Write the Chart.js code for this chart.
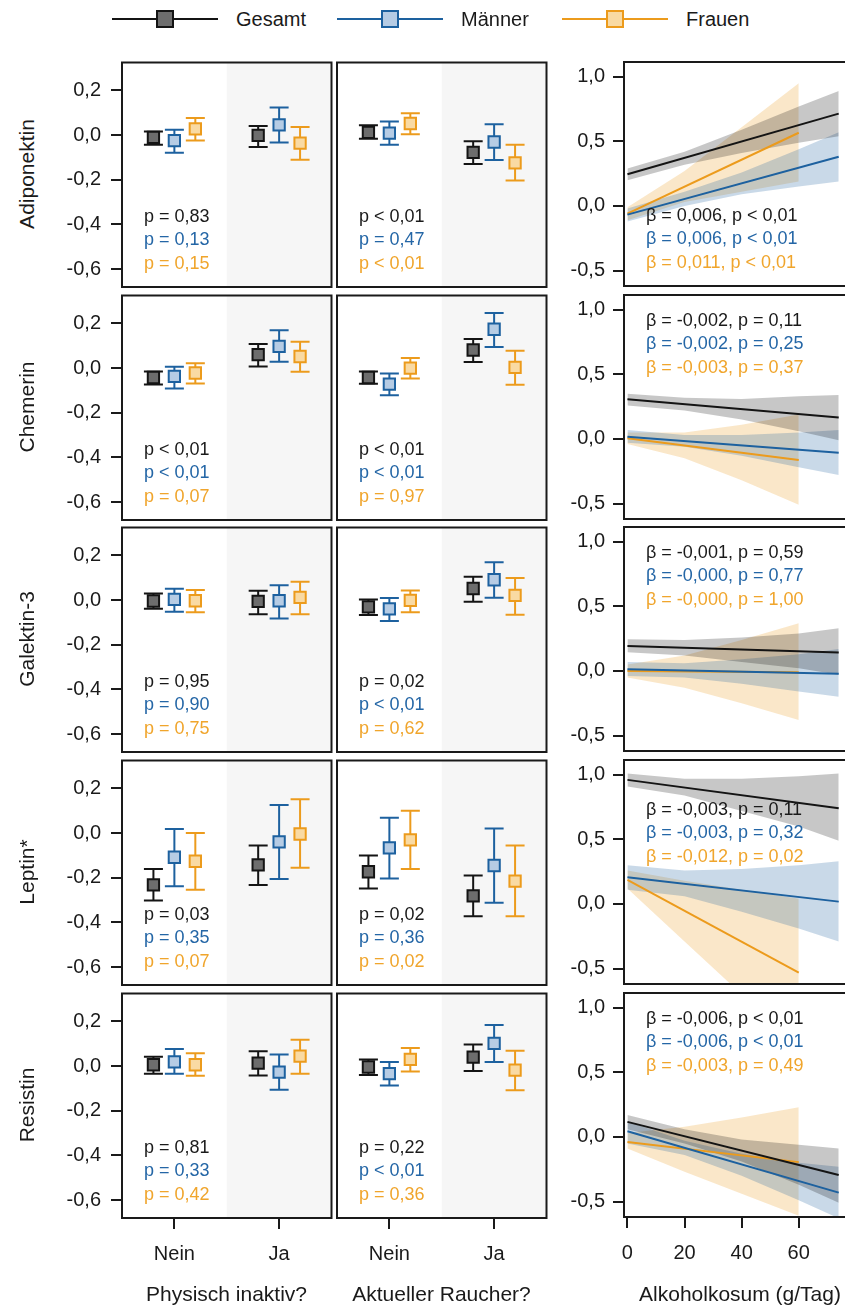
<!DOCTYPE html>
<html>
<head>
<meta charset="utf-8">
<script src="https://cdn.jsdelivr.net/npm/chart.js@4.4.1/dist/chart.umd.min.js"></script>
<style>
  html, body { margin: 0; padding: 0; }
  body { width: 845px; height: 1305px; position: relative; overflow: hidden; background: #fff;
         font-family: "Liberation Sans", Arial, sans-serif; color: #1a1a1a; }
  .wrap { position: absolute; }
  .txt { position: absolute; white-space: nowrap; line-height: 1; }
  .rot { transform: translate(-50%, -50%) rotate(-90deg); }
  .ctr { transform: translate(-50%, -50%); }
  .leg-line { position: absolute; height: 2px; }
  .leg-box { position: absolute; width: 14px; height: 14px; border: 2px solid; }
</style>
</head>
<body>
<script>
// ---- data ----
const rowNames = ["Adiponektin", "Chemerin", "Galektin-3", "Leptin*", "Resistin"];
const groups = ["Nein", "Ja"];
const seriesNames = ["Gesamt", "Männer", "Frauen"];
const xTitles = ["Physisch inaktiv?", "Aktueller Raucher?", "Alkoholkosum (g/Tag)"];

// [row][Gesamt, Männer, Frauen][Nein, Ja]
const inaktivMean = [
  [[-0.010, -0.001], [-0.025, 0.046], [0.028, -0.036]],
  [[-0.042, 0.060], [-0.037, 0.097], [-0.022, 0.052]],
  [[-0.004, -0.006], [0.003, -0.003], [-0.003, 0.012]],
  [[-0.232, -0.142], [-0.108, -0.039], [-0.126, -0.004]],
  [[0.006, 0.013], [0.019, -0.027], [0.006, 0.045]]
];
const inaktivLo = [
  [[-0.043, -0.053], [-0.079, -0.033], [-0.024, -0.110]],
  [[-0.073, 0.007], [-0.091, 0.028], [-0.069, -0.016]],
  [[-0.039, -0.063], [-0.052, -0.082], [-0.054, -0.063]],
  [[-0.302, -0.232], [-0.238, -0.206], [-0.254, -0.155]],
  [[-0.034, -0.042], [-0.034, -0.106], [-0.043, -0.034]]
];
const inaktivHi = [
  [[0.016, 0.041], [0.024, 0.123], [0.076, 0.036]],
  [[-0.015, 0.108], [0.006, 0.169], [0.022, 0.118]],
  [[0.030, 0.042], [0.051, 0.067], [0.045, 0.082]],
  [[-0.161, -0.055], [0.018, 0.126], [0.000, 0.151]],
  [[0.042, 0.067], [0.076, 0.052], [0.057, 0.118]]
];
const raucherMean = [
  [[0.012, -0.077], [0.009, -0.031], [0.052, -0.124]],
  [[-0.042, 0.081], [-0.072, 0.174], [0.000, 0.003]],
  [[-0.030, 0.052], [-0.039, 0.091], [-0.001, 0.021]],
  [[-0.173, -0.281], [-0.066, -0.145], [-0.030, -0.215]],
  [[-0.004, 0.040], [-0.034, 0.102], [0.030, -0.018]]
];
const raucherLo = [
  [[-0.016, -0.129], [-0.043, -0.111], [0.004, -0.203]],
  [[-0.070, 0.027], [-0.121, 0.094], [-0.046, -0.075]],
  [[-0.067, -0.007], [-0.094, 0.010], [-0.054, -0.066]],
  [[-0.248, -0.372], [-0.203, -0.312], [-0.161, -0.372]],
  [[-0.040, -0.022], [-0.087, 0.018], [-0.024, -0.108]]
];
const raucherHi = [
  [[0.044, -0.028], [0.061, 0.049], [0.098, -0.043]],
  [[-0.015, 0.130], [-0.024, 0.247], [0.045, 0.078]],
  [[0.003, 0.105], [0.009, 0.169], [0.043, 0.099]],
  [[-0.100, -0.190], [0.069, 0.021], [0.100, -0.055]],
  [[0.030, 0.097], [0.018, 0.184], [0.081, 0.069]]
];

// alcohol: regression line ends and confidence band
const alkX = [0, 20, 40, 60, 74];
const alkXFrauen = [0, 20, 40, 60];
const alkLineX = [0, 74];
const alkLineXFrauen = [0, 60];
const alkLine = [
  [[0.245, 0.715], [-0.067, 0.381], [-0.060, 0.567]],
  [[0.308, 0.166], [0.018, -0.106], [0.005, -0.163]],
  [[0.194, 0.142], [0.013, -0.021], [0.000, -0.010]],
  [[0.961, 0.742], [0.207, 0.018], [0.186, -0.532]],
  [[0.117, -0.294], [0.044, -0.431], [-0.039, -0.195]]
];
const alkLo = [
  [[0.20, 0.32, 0.41, 0.49, 0.54], [-0.12, 0.00, 0.09, 0.15, 0.19], [-0.11, 0.03, 0.11, 0.19]],
  [[0.26, 0.22, 0.15, 0.06, -0.01], [-0.03, -0.06, -0.13, -0.22, -0.28], [-0.04, -0.15, -0.32, -0.51]],
  [[0.145, 0.12, 0.07, 0.02, -0.03], [-0.04, -0.05, -0.10, -0.16, -0.20], [-0.05, -0.13, -0.25, -0.38]],
  [[0.91, 0.84, 0.72, 0.60, 0.49], [0.11, 0.06, -0.06, -0.19, -0.29], [0.12, -0.29, -0.70, -1.10]],
  [[0.06, -0.05, -0.19, -0.37, -0.51], [-0.05, -0.14, -0.30, -0.49, -0.63], [-0.09, -0.27, -0.44, -0.61]]
];
const alkHi = [
  [[0.29, 0.42, 0.59, 0.77, 0.89], [-0.02, 0.11, 0.26, 0.44, 0.57], [-0.01, 0.27, 0.61, 0.95]],
  [[0.35, 0.32, 0.31, 0.33, 0.34], [0.07, 0.03, 0.03, 0.05, 0.07], [0.05, 0.05, 0.11, 0.19]],
  [[0.245, 0.24, 0.26, 0.29, 0.33], [0.07, 0.06, 0.09, 0.13, 0.17], [0.05, 0.12, 0.24, 0.37]],
  [[1.01, 0.97, 0.97, 0.99, 1.01], [0.30, 0.26, 0.27, 0.30, 0.33], [0.26, 0.18, 0.11, 0.04]],
  [[0.17, 0.06, -0.02, -0.06, -0.09], [0.12, -0.03, -0.13, -0.20, -0.23], [0.03, 0.08, 0.15, 0.23]]
];

const pInaktiv = [
  ["p = 0,83", "p = 0,13", "p = 0,15"],
  ["p < 0,01", "p < 0,01", "p = 0,07"],
  ["p = 0,95", "p = 0,90", "p = 0,75"],
  ["p = 0,03", "p = 0,35", "p = 0,07"],
  ["p = 0,81", "p = 0,33", "p = 0,42"]
];
const pRaucher = [
  ["p < 0,01", "p = 0,47", "p < 0,01"],
  ["p < 0,01", "p < 0,01", "p = 0,97"],
  ["p = 0,02", "p < 0,01", "p = 0,62"],
  ["p = 0,02", "p = 0,36", "p = 0,02"],
  ["p = 0,22", "p < 0,01", "p = 0,36"]
];
const betaAlk = [
  ["β = 0,006, p < 0,01", "β = 0,006, p < 0,01", "β = 0,011, p < 0,01"],
  ["β = -0,002, p = 0,11", "β = -0,002, p = 0,25", "β = -0,003, p = 0,37"],
  ["β = -0,001, p = 0,59", "β = -0,000, p = 0,77", "β = -0,000, p = 1,00"],
  ["β = -0,003, p = 0,11", "β = -0,003, p = 0,32", "β = -0,012, p = 0,02"],
  ["β = -0,006, p < 0,01", "β = -0,006, p < 0,01", "β = -0,003, p = 0,49"]
];

const yTicksLeft = [0.2, 0.0, -0.2, -0.4, -0.6];
const yTicksRight = [1.0, 0.5, 0.0, -0.5];
const xTicksAlk = [0, 20, 40, 60];

// ---- style / layout ----
const FONT = '"Liberation Sans", Arial, sans-serif';
const lineCol = ['#141414', '#1d619f', '#ec9b1c'];
const fillCol = ['#6d6d6d', '#b6cce4', '#f9daa3'];
const textCol = ['#1a1a1a', '#2466a6', '#f0a52c'];
const bandCol = ['rgba(0,0,0,0.22)', 'rgba(31,98,160,0.24)', 'rgba(236,155,28,0.24)'];
const colX = [122, 337, 624];
const colW = [209, 209, 221];
const rowY = [62, 295, 527, 760, 993];
const boxH = 224;
const dodge = 0.2;
const betaTop = [null, 26, 26, 50, 26];

Chart.defaults.font.family = FONT;
Chart.defaults.color = '#1a1a1a';

const panelPlugin = {
  id: 'panel',
  beforeDatasetsDraw(chart, args, o) {
    if (o.shadeFrom === undefined) return;
    const { ctx, chartArea: a } = chart;
    const x0 = chart.scales.x.getPixelForValue(o.shadeFrom);
    ctx.save();
    ctx.fillStyle = '#f6f6f6';
    ctx.fillRect(x0, a.top, a.right - x0, a.bottom - a.top);
    ctx.restore();
  },
  afterDatasetsDraw(chart, args, o) {
    const { ctx, chartArea: a } = chart;
    ctx.save();
    ctx.font = '18px ' + FONT;
    ctx.textBaseline = 'middle';
    o.lines.forEach((t, i) => {
      ctx.fillStyle = textCol[i];
      const y = o.fromBottom != null ? a.bottom - o.fromBottom + i * 23.3 : a.top + o.fromTop + i * 23.3;
      ctx.fillText(t, a.left + 22, y);
    });
    ctx.strokeStyle = '#1a1a1a';
    ctx.lineWidth = 2;
    ctx.beginPath();
    if (o.openRight) {
      ctx.moveTo(a.right + 4, a.top);
      ctx.lineTo(a.left, a.top);
      ctx.lineTo(a.left, a.bottom);
      ctx.lineTo(a.right + 4, a.bottom);
    } else {
      ctx.rect(a.left, a.top, a.right - a.left, a.bottom - a.top);
    }
    ctx.stroke();
    ctx.restore();
  }
};

const fmt = v => v.toFixed(1).replace('.', ',');
const noPad = s => { s.paddingTop = 0; s.paddingBottom = 0; s.paddingLeft = 0; s.paddingRight = 0; };

function axisCommon(show, pad) {
  return {
    display: show,
    grid: { drawOnChartArea: false, drawTicks: true, tickLength: 11, color: '#1a1a1a', lineWidth: 2 },
    border: { display: false },
    ticks: { font: { size: 20 }, color: '#1a1a1a', padding: pad, maxRotation: 0, autoSkip: false }
  };
}

function dotConfig(row, col, mean, lo, hi, pTexts) {
  const datasets = [];
  seriesNames.forEach((name, s) => {
    const dx = (s - 1) * dodge;
    const bars = [];
    groups.forEach((g, gi) => {
      bars.push({ x: gi + 1 + dx, y: lo[row][s][gi] }, { x: gi + 1 + dx, y: hi[row][s][gi] }, { x: gi + 1 + dx, y: null });
    });
    datasets.push({
      label: name, data: bars, borderColor: lineCol[s], borderWidth: 2,
      pointStyle: 'line', pointRadius: 9.5, pointBorderWidth: 2, pointBorderColor: lineCol[s],
      spanGaps: false, order: 2
    });
    datasets.push({
      label: name, data: groups.map((g, gi) => ({ x: gi + 1 + dx, y: mean[row][s][gi] })),
      showLine: false, pointStyle: 'rect', pointRadius: 8,
      pointBackgroundColor: fillCol[s], pointBorderColor: lineCol[s], pointBorderWidth: 2, order: 1
    });
  });
  const x = axisCommon(row === 4, 13);
  Object.assign(x, {
    type: 'linear', min: 0.5, max: 2.5,
    afterBuildTicks: s => { s.ticks = groups.map((g, i) => ({ value: i + 1 })); },
    afterFit: s => { s.height = 60; noPad(s); }
  });
  x.ticks.callback = v => groups[Math.round(v) - 1];
  const y = axisCommon(col === 0, 10);
  Object.assign(y, {
    min: -0.68, max: 0.325,
    afterBuildTicks: s => { s.ticks = yTicksLeft.map(v => ({ value: v })); },
    afterFit: s => { s.width = 70; noPad(s); }
  });
  y.ticks.callback = v => fmt(v);
  return {
    type: 'line',
    data: { datasets },
    options: {
      animation: false, responsive: true, maintainAspectRatio: false, events: [],
      layout: { padding: 3 },
      plugins: {
        legend: { display: false }, tooltip: { enabled: false },
        panel: { shadeFrom: 1.5, lines: pTexts[row], fromBottom: 70 }
      },
      scales: { x, y }
    },
    plugins: [panelPlugin]
  };
}

function alkConfig(row) {
  const datasets = [];
  seriesNames.forEach((name, s) => {
    const xs = s === 2 ? alkXFrauen : alkX;
    const lx = s === 2 ? alkLineXFrauen : alkLineX;
    datasets.push({ label: name, data: xs.map((v, i) => ({ x: v, y: alkLo[row][s][i] })),
      borderWidth: 0, borderColor: 'transparent', pointRadius: 0, fill: false, order: 2 });
    datasets.push({ label: name, data: xs.map((v, i) => ({ x: v, y: alkHi[row][s][i] })),
      borderWidth: 0, borderColor: 'transparent', pointRadius: 0, fill: '-1', backgroundColor: bandCol[s], order: 2 });
    datasets.push({ label: name, data: lx.map((v, i) => ({ x: v, y: alkLine[row][s][i] })),
      borderColor: lineCol[s], borderWidth: 2, pointRadius: 0, fill: false, order: 1 });
  });
  const x = axisCommon(row === 4, 13);
  Object.assign(x, {
    type: 'linear', min: -1.2, max: 76.2,
    afterBuildTicks: s => { s.ticks = xTicksAlk.map(v => ({ value: v })); },
    afterFit: s => { s.height = 60; noPad(s); }
  });
  x.ticks.callback = v => String(v);
  const y = axisCommon(true, 8);
  Object.assign(y, {
    min: -0.62, max: 1.115,
    afterBuildTicks: s => { s.ticks = yTicksRight.map(v => ({ value: v })); },
    afterFit: s => { s.width = 70; noPad(s); }
  });
  y.ticks.callback = v => fmt(v);
  const panel = { lines: betaAlk[row], openRight: true };
  if (betaTop[row] == null) panel.fromBottom = 70; else panel.fromTop = betaTop[row];
  return {
    type: 'line',
    data: { datasets },
    options: {
      animation: false, responsive: true, maintainAspectRatio: false, events: [],
      layout: { padding: 3 },
      plugins: { legend: { display: false }, tooltip: { enabled: false }, panel },
      scales: { x, y }
    },
    plugins: [panelPlugin]
  };
}

// put a chart so that its chart area lands exactly on box
function placeChart(box, config) {
  const wrap = document.createElement('div');
  wrap.className = 'wrap';
  wrap.style.width = (box.w + 100) + 'px';
  wrap.style.height = (box.h + 100) + 'px';
  document.body.appendChild(wrap);
  const canvas = document.createElement('canvas');
  wrap.appendChild(canvas);
  const chart = new Chart(canvas, config);
  let a = chart.chartArea;
  wrap.style.width = Math.round(box.w + 100 + box.w - (a.right - a.left)) + 'px';
  wrap.style.height = Math.round(box.h + 100 + box.h - (a.bottom - a.top)) + 'px';
  chart.resize();
  a = chart.chartArea;
  wrap.style.left = (box.x - a.left) + 'px';
  wrap.style.top = (box.y - a.top) + 'px';
  return chart;
}

function addText(text, x, y, size, cls, color) {
  const d = document.createElement('div');
  d.className = 'txt ' + cls;
  d.textContent = text;
  d.style.left = x + 'px';
  d.style.top = y + 'px';
  d.style.fontSize = size + 'px';
  if (color) d.style.color = color;
  document.body.appendChild(d);
}

rowNames.forEach((name, r) => {
  placeChart({ x: colX[0], y: rowY[r], w: colW[0], h: boxH }, dotConfig(r, 0, inaktivMean, inaktivLo, inaktivHi, pInaktiv));
  placeChart({ x: colX[1], y: rowY[r], w: colW[1], h: boxH }, dotConfig(r, 1, raucherMean, raucherLo, raucherHi, pRaucher));
  placeChart({ x: colX[2], y: rowY[r], w: colW[2], h: boxH }, alkConfig(r));
  addText(name, 26, rowY[r] + boxH / 2, 21, 'rot');
});

xTitles.forEach((t, c) => {
  const cx = c < 2 ? colX[c] + colW[c] / 2 : 740;
  addText(t, cx, 1293, 21, 'ctr');
});

// legend
const legX = [112, 337, 562];
seriesNames.forEach((name, s) => {
  const ln = document.createElement('div');
  ln.className = 'leg-line';
  ln.style.left = legX[s] + 'px'; ln.style.top = '18px'; ln.style.width = '106px';
  ln.style.background = lineCol[s];
  document.body.appendChild(ln);
  const bx = document.createElement('div');
  bx.className = 'leg-box';
  bx.style.left = (legX[s] + 53 - 9) + 'px'; bx.style.top = '10px';
  bx.style.background = fillCol[s]; bx.style.borderColor = lineCol[s];
  document.body.appendChild(bx);
  addText(name, legX[s] + 124, 19, 20, '', '#1a1a1a');
  document.body.lastChild.style.transform = 'translateY(-50%)';
});
</script>
</body>
</html>
